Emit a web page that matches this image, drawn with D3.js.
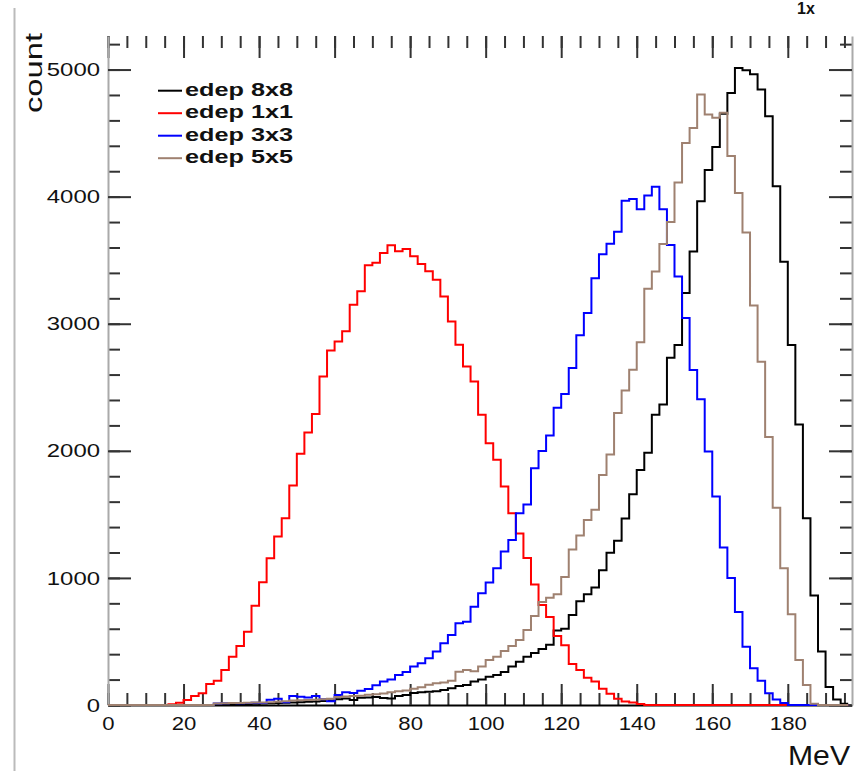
<!DOCTYPE html>
<html>
<head>
<meta charset="utf-8">
<style>
  body { margin: 0; background: #fff; }
  .tick text { font-family: "Liberation Sans", Arial, sans-serif; fill: #111; }
  .hist { fill: none; stroke-width: 2px; }
  .legend text { font-family: "Liberation Sans", Arial, sans-serif; font-weight: bold; fill: #111; }
</style>
</head>
<body>
<svg id="chart"></svg>
<script src="https://cdn.jsdelivr.net/npm/d3@7"></script>
<script>
  // bins: 2 MeV wide, starting at 0 MeV (98 bins, 0..196)
  var binWidth = 2;
  var binStart = 0;

  var seriesNames = ['edep 8x8', 'edep 1x1', 'edep 3x3', 'edep 5x5'];
  var seriesColors = ['#000000', '#ff0000', '#0000ff', '#9f8170'];

  var edep8x8 = [
    0, 0, 0, 0, 0, 0, 0, 0, 0, 0, 0, 0, 0, 0, 0,
    3, 5, 6, 8, 10, 12, 14, 16, 18, 20, 22, 25, 28, 32, 36,
    45, 52, 40, 58, 60, 62, 55, 52, 70, 79,
    95, 100, 105, 108, 118, 131, 150, 157, 184, 200,
    223, 236, 260, 302, 341, 380, 410, 440, 475, 586,
    600, 708, 817, 871, 925, 1061, 1197, 1292, 1468, 1659,
    1849, 1985, 2284, 2365, 2732, 2832, 3241, 3569, 3963, 4209,
    4390, 4652, 4816, 5013, 4995, 4964, 4843, 4632, 4081, 3487,
    2832, 2208, 1469, 862, 420, 141, 43, 10
  ];
  var edep1x1 = [
    0, 0, 0, 0, 0, 0, 0, 0,
    5, 18, 39, 71, 92, 165, 191, 276, 380, 465, 577, 780,
    966, 1155, 1325, 1470, 1727, 1976, 2144, 2289, 2585, 2790,
    2861, 2940, 3150, 3255, 3460, 3480, 3557, 3617, 3570, 3588,
    3530, 3470, 3412, 3346, 3215, 3018, 2835, 2664, 2545, 2283,
    2060, 1929, 1719, 1509, 1350, 1157, 949, 787, 693, 543,
    470, 322, 275, 215, 185, 128, 88, 50, 28, 20, 8,
    0, 0, 0, 0, 0, 0, 0, 0, 0, 0, 0, 0, 0, 0, 0, 0, 0, 0, 0, 0, 0, 0, 0, 0, 0, 0, 0
  ];
  var edep3x3 = [
    0, 0, 0, 0, 0, 0, 0, 0, 0, 0, 0, 0, 0, 0,
    12, 14, 15, 14, 16, 18, 15, 42, 50, 22,
    71, 65, 59, 71, 45, 30, 79, 100, 95, 112,
    125, 155, 184, 200, 236, 260, 302, 328, 367, 420,
    486, 551, 643, 656, 774, 879, 963, 1076, 1207, 1299,
    1509, 1577, 1863, 1999, 2121, 2338, 2447, 2651, 2909, 3085,
    3357, 3547, 3629, 3724, 3968, 3982, 3900, 4009, 4077, 3900,
    3619, 3372, 3045, 2635, 2405, 1995, 1640, 1240, 1000, 732,
    459, 289, 190, 92, 43, 15,
    0, 0, 0, 0, 0, 0, 0, 0
  ];
  var edep5x5 = [
    0, 0, 0, 0, 0, 0, 0, 0, 0, 0, 0, 0, 0, 0,
    12, 14, 15, 16, 18, 20, 20, 22, 25, 30,
    35, 38, 40, 42, 45, 50, 62, 66, 70, 72,
    80, 85, 90, 100, 108, 115, 128, 140, 160, 171,
    178, 190, 262, 276, 265, 302, 354, 380, 425, 465,
    512, 590, 700, 810, 844, 871, 1007, 1224, 1333, 1455,
    1537, 1809, 1972, 2298, 2474, 2637, 2854, 3276, 3411, 3628,
    3800, 4111, 4423, 4540, 4803, 4646, 4620, 4660, 4320, 4029,
    3717, 3143, 2700, 2109, 1552, 1076, 715, 354, 157, 10,
    0, 0, 0, 0
  ];
  var seriesValues = [edep8x8, edep1x1, edep3x3, edep5x5];

  var xMajor = d3.range(0, 181, 20);
  var xMinor = d3.range(0, 197, 5);
  var yMajor = d3.range(0, 5001, 1000);
  var yMinor = d3.range(0, 5201, 200);

  var width = 855, height = 771;
  var svg = d3.select('#chart').attr('width', width).attr('height', height);

  var x = d3.scaleLinear().domain([0, 197]).range([108, 852]);
  var y = d3.scaleLinear().domain([0, 5264]).range([705, 36]);

  // pad border line on the left
  svg.append('line')
    .attr('x1', 14.5).attr('x2', 14.5).attr('y1', 8).attr('y2', height)
    .attr('stroke', '#bbb').attr('stroke-width', 2);

  // minor ticks
  svg.append('g').attr('transform', 'translate(0,705)')
    .call(d3.axisBottom(x).tickValues(xMinor).tickSizeInner(-12).tickSizeOuter(0).tickFormat(''))
    .call(function(g){ g.select('.domain').remove(); });
  svg.append('g').attr('transform', 'translate(0,36)')
    .call(d3.axisTop(x).tickValues(xMinor).tickSizeInner(-12).tickSizeOuter(0).tickFormat(''))
    .call(function(g){ g.select('.domain').remove(); });
  svg.append('g').attr('transform', 'translate(108,0)')
    .call(d3.axisLeft(y).tickValues(yMinor).tickSizeInner(-12).tickSizeOuter(0).tickFormat(''))
    .call(function(g){ g.select('.domain').remove(); });
  svg.append('g').attr('transform', 'translate(852,0)')
    .call(d3.axisRight(y).tickValues(yMinor).tickSizeInner(-12).tickSizeOuter(0).tickFormat(''))
    .call(function(g){ g.select('.domain').remove(); });

  // major ticks + labels
  var xAxis = svg.append('g').attr('transform', 'translate(0,705)')
    .call(d3.axisBottom(x).tickValues(xMajor).tickSizeInner(-21).tickSizeOuter(0)
      .tickPadding(12).tickFormat(d3.format('d')));
  xAxis.select('.domain').attr('stroke', '#000').attr('stroke-width', 2);
  xAxis.selectAll('.tick text').attr('font-size', 19)
    .attr('textLength', function(d){ return String(d).length * 12.3; })
    .attr('lengthAdjust', 'spacingAndGlyphs');

  svg.append('g').attr('transform', 'translate(0,36)')
    .call(d3.axisTop(x).tickValues(xMajor).tickSizeInner(-22).tickSizeOuter(0).tickFormat(''))
    .call(function(g){ g.select('.domain').remove(); });

  var yAxis = svg.append('g').attr('transform', 'translate(108,0)')
    .call(d3.axisLeft(y).tickValues(yMajor).tickSizeInner(-23).tickSizeOuter(0)
      .tickPadding(8).tickFormat(d3.format('d')));
  yAxis.select('.domain').attr('stroke', '#aaa').attr('stroke-width', 2);
  yAxis.selectAll('.tick text').attr('font-size', 19)
    .attr('textLength', function(d){ return String(d).length * 13.3; })
    .attr('lengthAdjust', 'spacingAndGlyphs');

  var yRight = svg.append('g').attr('transform', 'translate(852,0)')
    .call(d3.axisRight(y).tickValues(yMajor).tickSizeInner(-23).tickSizeOuter(0).tickFormat(''));
  yRight.select('.domain').attr('stroke', '#aaa').attr('stroke-width', 2);

  svg.selectAll('.tick line').attr('stroke', '#333').attr('stroke-width', 2);

  // histograms (drawn in the original order: 8x8, 1x1, 3x3, 5x5)
  var line = d3.line()
    .x(function(d){ return x(d[0]); })
    .y(function(d){ return y(d[1]); })
    .curve(d3.curveStepAfter);

  seriesValues.forEach(function(vals, k) {
    var pts = vals.map(function(v, i){ return [binStart + i * binWidth, v]; });
    pts.push([binStart + vals.length * binWidth, vals[vals.length - 1]]);
    svg.append('path')
      .attr('class', 'hist')
      .attr('stroke', seriesColors[k])
      .attr('d', line(pts));
  });

  // legend
  var legend = svg.append('g').attr('class', 'legend');
  seriesNames.forEach(function(name, k) {
    var ly = 90.7 + k * 22.5;
    legend.append('line')
      .attr('x1', 158).attr('x2', 182).attr('y1', ly).attr('y2', ly)
      .attr('stroke', seriesColors[k]).attr('stroke-width', 2);
    legend.append('text')
      .attr('x', 185).attr('y', ly + 5)
      .attr('font-size', 18)
      .attr('textLength', 108).attr('lengthAdjust', 'spacingAndGlyphs')
      .text(name);
  });

  // axis titles
  svg.append('text')
    .attr('transform', 'translate(42,33) rotate(-90)')
    .attr('text-anchor', 'end')
    .attr('font-family', '"Liberation Sans", Arial, sans-serif')
    .attr('font-size', 23)
    .attr('fill', '#111')
    .attr('textLength', 80).attr('lengthAdjust', 'spacingAndGlyphs')
    .text('count');

  svg.append('text')
    .attr('x', 850).attr('y', 765)
    .attr('text-anchor', 'end')
    .attr('font-family', '"Liberation Sans", Arial, sans-serif')
    .attr('font-size', 28)
    .attr('fill', '#111')
    .attr('textLength', 62).attr('lengthAdjust', 'spacingAndGlyphs')
    .text('MeV');

  // title at the top edge
  svg.append('text')
    .attr('x', 797).attr('y', 14)
    .attr('font-family', '"Liberation Sans", Arial, sans-serif')
    .attr('font-weight', 'bold')
    .attr('font-size', 16)
    .attr('fill', '#111')
    .text('1x');
</script>
</body>
</html>
